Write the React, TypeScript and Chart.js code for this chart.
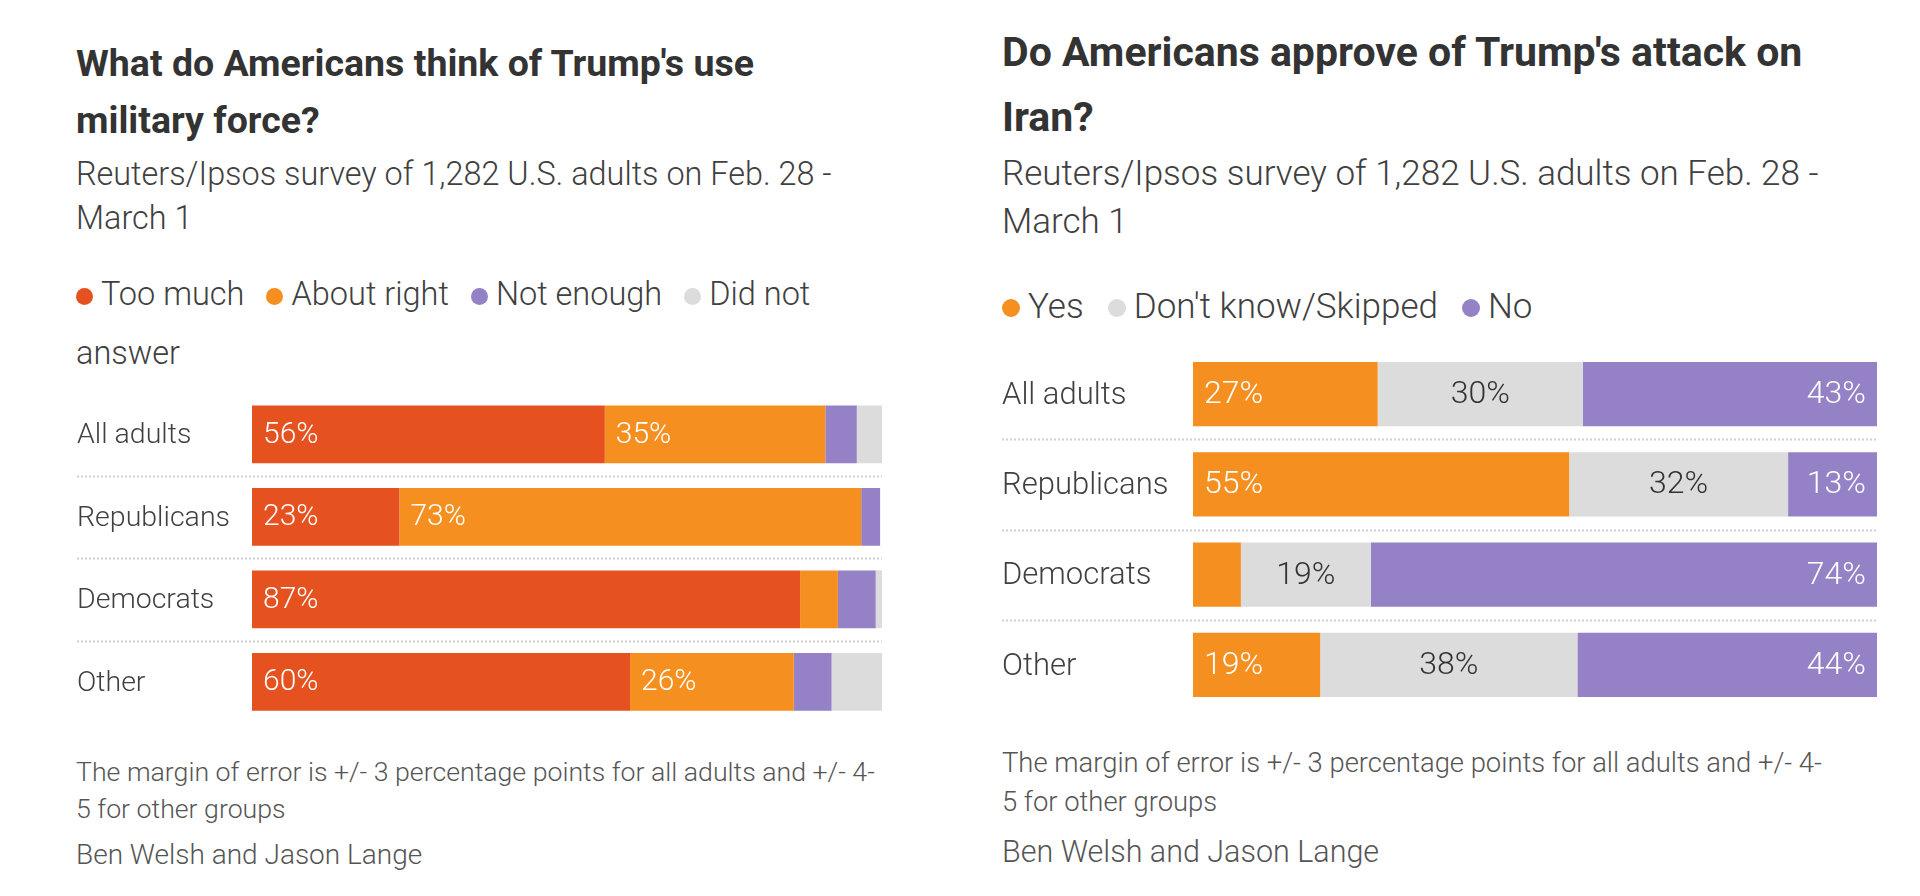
import React, { useEffect, useRef } from "react";
import { Chart, registerables } from "chart.js";
Chart.register(...registerables);

const FONT = "Roboto, 'Noto Sans', sans-serif";
const TEXT = "#404040";

// ---------- Left chart: use of military force ----------
const militaryCategories = ["All adults", "Republicans", "Democrats", "Other"];
const militarySeries = ["Too much", "About right", "Not enough", "Did not answer"];
const tooMuch = [56, 23.4, 87, 60];
const aboutRight = [35, 73.3, 6, 26];
const notEnough = [5, 3, 6, 6];
const didNotAnswer = [4, 0, 1, 8];
const militaryColors = ["#e5511f", "#f58f1f", "#9581c5", "#dcdcdc"];

// ---------- Right chart: attack on Iran ----------
const iranCategories = ["All adults", "Republicans", "Democrats", "Other"];
const iranSeries = ["Yes", "Don't know/Skipped", "No"];
const yes = [27, 55, 7, 18.6];
const dontKnow = [30, 32, 19, 37.6];
const no = [43, 13, 74, 43.8];
const iranColors = ["#f58f1f", "#dcdcdc", "#9581c5"];

const segmentLabels = {
  id: "segmentLabels",
  afterDatasetsDraw(chart: any, _args: any, opts: any) {
    const ctx = chart.ctx;
    chart.data.datasets.forEach((ds: any, di: number) => {
      const c = opts.datasets[di];
      if (!c || !c.show) return;
      const meta = chart.getDatasetMeta(di);
      meta.data.forEach((bar: any, i: number) => {
        const v = ds.data[i] as number;
        if (v < opts.min) return;
        const { x, base, y } = bar.getProps(["x", "base", "y"], true);
        const left = Math.min(x, base);
        const right = Math.max(x, base);
        ctx.save();
        ctx.font = `${opts.weight} ${opts.size}px ${FONT}`;
        ctx.fillStyle = c.color;
        ctx.textBaseline = "middle";
        let tx: number;
        if (c.align === "start") {
          ctx.textAlign = "left";
          tx = left + opts.pad;
        } else if (c.align === "end") {
          ctx.textAlign = "right";
          tx = right - opts.pad;
        } else {
          ctx.textAlign = "center";
          tx = (left + right) / 2;
        }
        ctx.fillText(Math.round(v) + "%", tx, y + 1);
        ctx.restore();
      });
    });
  },
};

const separators = {
  id: "separators",
  beforeDatasetsDraw(chart: any, _args: any, opts: any) {
    const ys = chart.scales.y;
    const ctx = chart.ctx;
    const n = chart.data.labels.length;
    ctx.save();
    ctx.strokeStyle = opts.color;
    ctx.lineWidth = opts.width;
    ctx.setLineDash(opts.dash);
    for (let i = 0; i < n - 1; i++) {
      const py = Math.round((ys.getPixelForValue(i) + ys.getPixelForValue(i + 1)) / 2) + 0.5;
      ctx.beginPath();
      ctx.moveTo(0, py);
      ctx.lineTo(chart.chartArea.right, py);
      ctx.stroke();
    }
    ctx.restore();
  },
};

type BarProps = {
  labels: string[];
  series: string[];
  values: number[][];
  colors: string[];
  labelCfg: { show: boolean; align: string; color: string }[];
  axisWidth: number;
  tickSize: number;
  valueSize: number;
  catPct: number;
  left: number;
  top: number;
  width: number;
  height: number;
};

function StackedBars(p: BarProps) {
  const ref = useRef<HTMLCanvasElement>(null);
  useEffect(() => {
    if (!ref.current) return;
    const chart = new Chart(ref.current, {
      type: "bar",
      data: {
        labels: p.labels,
        datasets: p.series.map((s, i) => ({
          label: s,
          data: p.values[i],
          backgroundColor: p.colors[i],
          borderWidth: 0,
          barPercentage: 1,
          categoryPercentage: p.catPct,
        })),
      },
      options: {
        indexAxis: "y",
        animation: false,
        responsive: false,
        maintainAspectRatio: false,
        layout: { padding: 0 },
        scales: {
          x: { stacked: true, min: 0, max: 100, display: false },
          y: {
            stacked: true,
            grid: { display: false },
            border: { display: false },
            afterFit: (scale: any) => {
              scale.width = p.axisWidth;
              scale.paddingTop = 0;
              scale.paddingBottom = 0;
            },
            ticks: {
              crossAlign: "far",
              color: TEXT,
              padding: 0,
              labelOffset: 2,
              font: { family: FONT, size: p.tickSize, weight: 300 as any },
            },
          },
        },
        plugins: {
          legend: { display: false },
          tooltip: { enabled: false },
          segmentLabels: { datasets: p.labelCfg, min: 10, pad: 11, size: p.valueSize, weight: 300 },
          separators: { color: "#cfcfcf", width: 2, dash: [2, 2] },
        } as any,
      },
      plugins: [segmentLabels, separators],
    });
    return () => chart.destroy();
  }, []);
  return (
    <canvas
      ref={ref}
      width={p.width}
      height={p.height}
      style={{ position: "absolute", left: p.left, top: p.top, width: p.width, height: p.height }}
    />
  );
}

// top of a line box so that the first baseline lands at b
function topFor(b: number, size: number, lh: number) {
  return b - ((lh - 1.172 * size) / 2 + 0.928 * size);
}

function Dot({ color, size }: { color: string; size: number }) {
  return (
    <span
      style={{
        display: "inline-block",
        width: size,
        height: size,
        borderRadius: "50%",
        background: color,
        marginRight: 8,
        verticalAlign: "0.02em",
      }}
    />
  );
}

export default function App() {
  const base: React.CSSProperties = { position: "absolute", fontFamily: FONT, color: TEXT, margin: 0, whiteSpace: "nowrap" };
  return (
    <div style={{ position: "absolute", left: 0, top: 0, width: 1920, height: 896, background: "#fff", overflow: "hidden" }}>
      {/* Left panel */}
      <div style={{ ...base, left: 76, top: topFor(76, 37.5, 57), fontSize: 37.5, lineHeight: "57px", fontWeight: 700, color: "#333" }}>
        What do Americans think of Trump's use
        <br />
        military force?
      </div>
      <div style={{ ...base, left: 76, top: topFor(185, 32.4, 44), fontSize: 32.4, lineHeight: "44px", fontWeight: 300 }}>
        Reuters/Ipsos survey of 1,282 U.S. adults on Feb. 28 -
        <br />
        March 1
      </div>
      <div style={{ ...base, left: 76, top: topFor(306, 32.5, 59), fontSize: 32.5, lineHeight: "59px", fontWeight: 300 }}>
        <Dot color={militaryColors[0]} size={17} />
        {militarySeries[0]}
        <span style={{ marginLeft: 22 }} />
        <Dot color={militaryColors[1]} size={17} />
        {militarySeries[1]}
        <span style={{ marginLeft: 22 }} />
        <Dot color={militaryColors[2]} size={17} />
        {militarySeries[2]}
        <span style={{ marginLeft: 22 }} />
        <Dot color={militaryColors[3]} size={17} />
        Did not
        <br />
        answer
      </div>
      <StackedBars
        labels={militaryCategories}
        series={militarySeries}
        values={[tooMuch, aboutRight, notEnough, didNotAnswer]}
        colors={militaryColors}
        labelCfg={[
          { show: true, align: "start", color: "#fff" },
          { show: true, align: "start", color: "#fff" },
          { show: false, align: "start", color: "#fff" },
          { show: false, align: "start", color: "#fff" },
        ]}
        axisWidth={175}
        tickSize={28.5}
        valueSize={30}
        catPct={0.7}
        left={77}
        top={393}
        width={805}
        height={330}
      />
      <div style={{ ...base, left: 76, top: topFor(782, 26.7, 37), fontSize: 26.7, lineHeight: "37px", fontWeight: 300, color: "#555" }}>
        The margin of error is +/- 3 percentage points for all adults and +/- 4-
        <br />
        5 for other groups
      </div>
      <div style={{ ...base, left: 76, top: topFor(865, 28, 36), fontSize: 28, lineHeight: "36px", fontWeight: 300, color: "#555" }}>
        Ben Welsh and Jason Lange
      </div>

      {/* Right panel */}
      <div style={{ ...base, left: 1002, top: topFor(67, 41, 65), fontSize: 41, lineHeight: "65px", fontWeight: 700, color: "#333" }}>
        Do Americans approve of Trump's attack on
        <br />
        Iran?
      </div>
      <div style={{ ...base, left: 1002, top: topFor(186, 35, 48), fontSize: 35, lineHeight: "48px", fontWeight: 300 }}>
        Reuters/Ipsos survey of 1,282 U.S. adults on Feb. 28 -
        <br />
        March 1
      </div>
      <div style={{ ...base, left: 1002, top: topFor(319, 35, 48), fontSize: 35, lineHeight: "48px", fontWeight: 300 }}>
        <Dot color={iranColors[0]} size={18} />
        {iranSeries[0]}
        <span style={{ marginLeft: 24 }} />
        <Dot color={iranColors[1]} size={18} />
        {iranSeries[1]}
        <span style={{ marginLeft: 24 }} />
        <Dot color={iranColors[2]} size={18} />
        {iranSeries[2]}
      </div>
      <StackedBars
        labels={iranCategories}
        series={iranSeries}
        values={[yes, dontKnow, no]}
        colors={iranColors}
        labelCfg={[
          { show: true, align: "start", color: "#fff" },
          { show: true, align: "center", color: "#333" },
          { show: true, align: "end", color: "#fff" },
        ]}
        axisWidth={191}
        tickSize={31}
        valueSize={32}
        catPct={0.71}
        left={1002}
        top={349}
        width={875}
        height={361}
      />
      <div style={{ ...base, left: 1002, top: topFor(773, 27.4, 39), fontSize: 27.4, lineHeight: "39px", fontWeight: 300, color: "#555" }}>
        The margin of error is +/- 3 percentage points for all adults and +/- 4-
        <br />
        5 for other groups
      </div>
      <div style={{ ...base, left: 1002, top: topFor(862, 30.5, 38), fontSize: 30.5, lineHeight: "38px", fontWeight: 300, color: "#555" }}>
        Ben Welsh and Jason Lange
      </div>
    </div>
  );
}
